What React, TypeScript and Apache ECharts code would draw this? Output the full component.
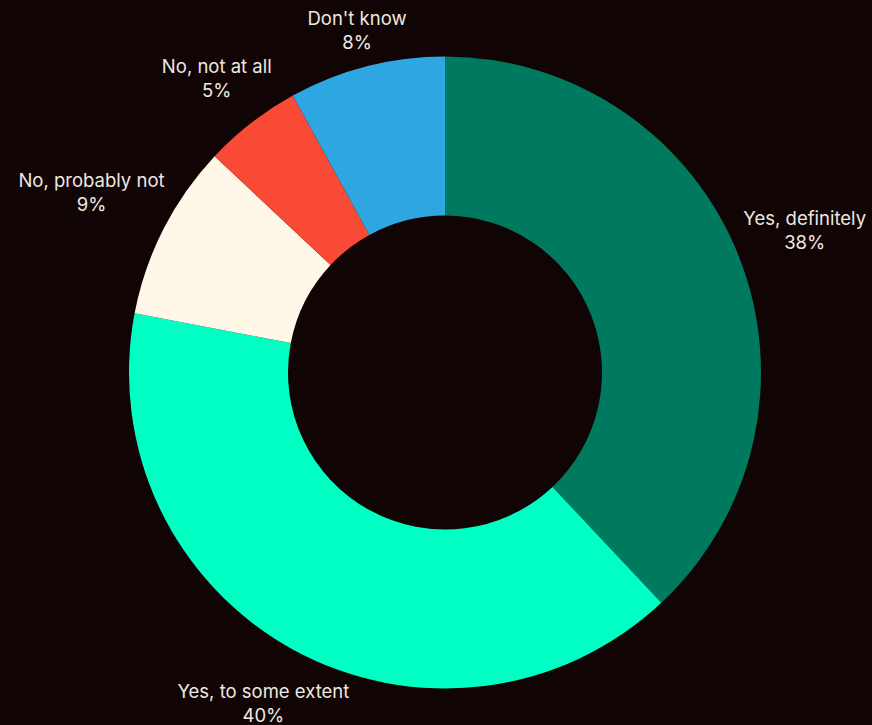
import React, { useEffect, useRef } from "react";
import * as echarts from "echarts";

const categories = ["Yes, definitely", "Yes, to some extent", "No, probably not", "No, not at all", "Don't know"];
const values = [38, 40, 9, 5, 8];
const colors = ["#007A5E", "#00FFC3", "#FFF8E8", "#F94A35", "#2EA6E1"];

const CX = 445;
const CY = 372.5;
const R_IN = 157;
const R_OUT = 316;
const GAP = 5;

function midAngle(i: number): number {
  const total = values.reduce((a, b) => a + b, 0);
  let before = 0;
  for (let j = 0; j < i; j++) before += values[j];
  const frac = (before + values[i] / 2) / total;
  return ((90 - frac * 360) * Math.PI) / 180;
}

export default function App() {
  const ref = useRef<HTMLDivElement>(null);
  useEffect(() => {
    if (!ref.current) return;
    const chart = echarts.init(ref.current, null, { renderer: "svg" });
    chart.setOption({
      animation: false,
      backgroundColor: "#110404",
      series: [
        {
          type: "pie",
          center: [CX, CY],
          radius: [R_IN, R_OUT],
          startAngle: 90,
          clockwise: true,
          avoidLabelOverlap: false,
          itemStyle: { borderWidth: 0 },
          label: {
            show: true,
            position: "outside",
            formatter: "{b}\n{c}%",
            color: "#EEE9E1",
            fontSize: 18.5,
            lineHeight: 24,
            fontFamily: "Inter",
            align: "center",
          },
          labelLine: { show: false },
          emphasis: { disabled: true },
          labelLayout: (params: any) => {
            const a = midAngle(params.dataIndex);
            const dx = Math.cos(a);
            const dy = -Math.sin(a);
            const w = params.labelRect.width;
            const h = params.labelRect.height;
            const target = R_OUT + GAP;
            let lo = 0;
            let hi = 1000;
            for (let k = 0; k < 50; k++) {
              const t = (lo + hi) / 2;
              const bx = Math.max(Math.abs(t * dx) - w / 2, 0);
              const by = Math.max(Math.abs(t * dy) - h / 2, 0);
              const d = Math.sqrt(bx * bx + by * by);
              if (d < target) lo = t;
              else hi = t;
            }
            const t = (lo + hi) / 2;
            return { x: CX + t * dx, y: CY + t * dy, align: "center", verticalAlign: "middle" };
          },
          data: categories.map((name, i) => ({
            name,
            value: values[i],
            itemStyle: { color: colors[i] },
          })),
        },
      ],
    });
    return () => chart.dispose();
  }, []);
  return (
    <div
      ref={ref}
      style={{ position: "fixed", left: 0, top: 0, width: 872, height: 725 }}
    />
  );
}
